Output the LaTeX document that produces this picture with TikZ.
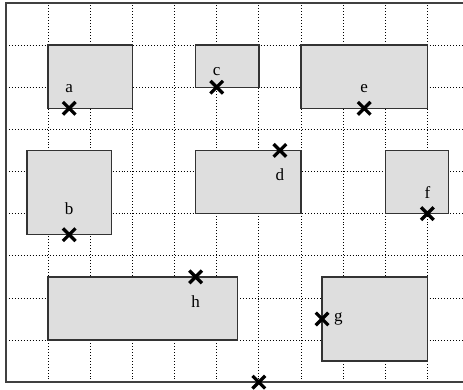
\documentclass[tikz,border=0pt]{standalone}
\usepackage{fontspec}
\setmainfont{Liberation Serif}
\usetikzlibrary{positioning, shapes.misc}

\begin{document}
\begin{tikzpicture}[
    x=0.5cm, y=0.5cm,
    gridline/.style={dash pattern=on 0.5pt off 1.5pt, line width=0.55pt, black},
    frame/.style={line width=1.2pt, black!75},
    block/.style={rectangle, draw=black!80, line width=0.9pt, fill=black!13, anchor=south west, inner sep=0pt, outer sep=0pt},
    pin/.style={cross out, draw=black, line width=2.2pt, minimum size=0.3cm, inner sep=0pt, outer sep=0pt},
    tag/.style={inner sep=0pt, font=\fontsize{11.5}{13}\selectfont}
]
\useasboundingbox (-0.285,-0.33) rectangle (21.69,18.14);

% Grid and frame
\draw[gridline] (0,0) grid (21.69,18);
\draw[frame] (21.69,18) -- (0,18) -- (0,0) -- (21.69,0);

% Blocks
\node[block, minimum width=2cm, minimum height=1.5cm] (blkA) at (2,13) {};
\node[block, minimum width=1.5cm, minimum height=1cm] (blkC) at (9,14) {};
\node[block, minimum width=3cm, minimum height=1.5cm] (blkE) at (14,13) {};
\node[block, minimum width=2cm, minimum height=2cm] (blkB) at (1,7) {};
\node[block, minimum width=2.5cm, minimum height=1.5cm] (blkD) at (9,8) {};
\node[block, minimum width=1.5cm, minimum height=1.5cm] (blkF) at (18,8) {};
\node[block, minimum width=4.5cm, minimum height=1.5cm] (blkH) at (2,2) {};
\node[block, minimum width=2.5cm, minimum height=2cm] (blkG) at (15,1) {};

% Points
\node[pin] (ptA) at (3,13) {};
\node[pin] (ptC) at (10,14) {};
\node[pin] (ptE) at (17,13) {};
\node[pin] (ptB) at (3,7) {};
\node[pin] (ptD) at (13,11) {};
\node[pin] (ptF) at (20,8) {};
\node[pin] (ptH) at (9,5) {};
\node[pin] (ptG) at (15,3) {};
\node[pin] (ptO) at (12,0) {};

% Labels
\node[tag, above=0.22cm of ptA] (lblA) {a};
\node[tag, above=0.12cm of ptC] (lblC) {c};
\node[tag, above=0.22cm of ptE] (lblE) {e};
\node[tag, above=0.32cm of ptB] (lblB) {b};
\node[tag, below=0.27cm of ptD] (lblD) {d};
\node[tag, above=0.2cm of ptF] (lblF) {f};
\node[tag, below=0.3cm of ptH] (lblH) {h};
\node[tag, right=0.13cm of ptG] (lblG) {g};

\end{tikzpicture}
\end{document}
